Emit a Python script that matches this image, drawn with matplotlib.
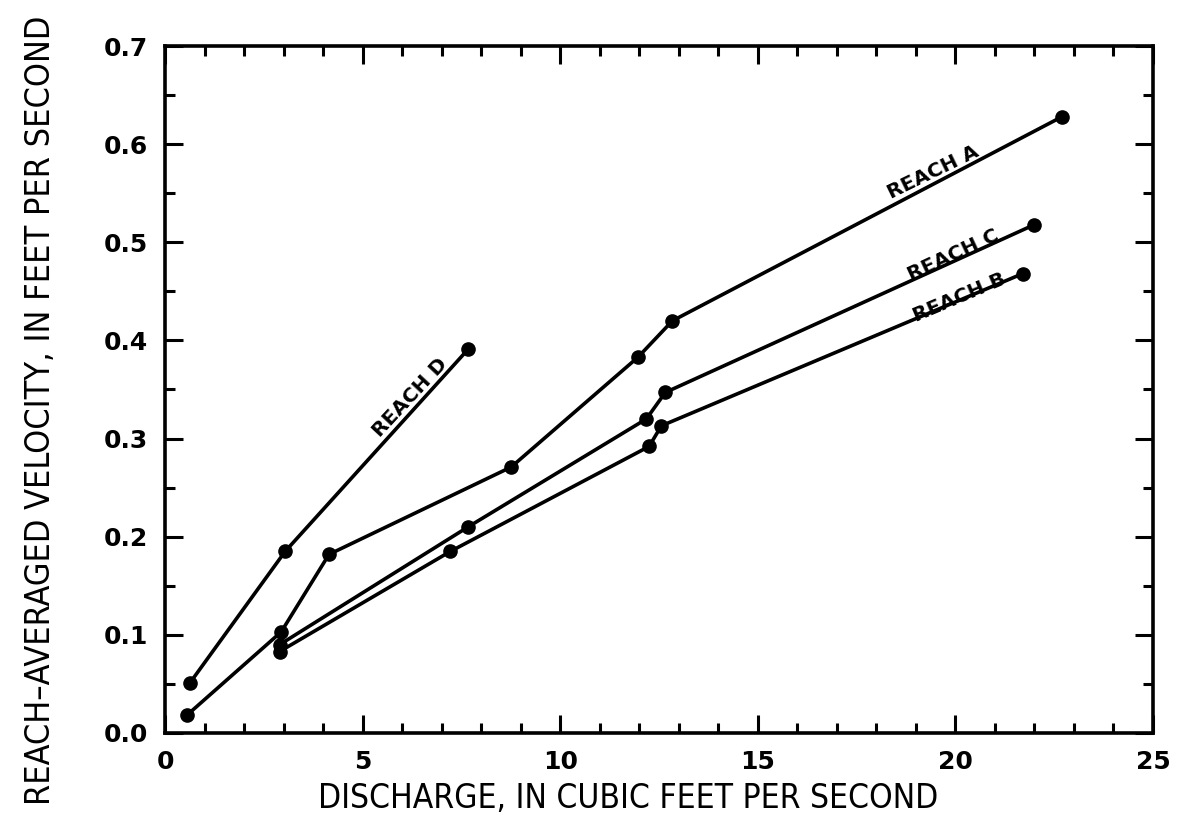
import matplotlib
matplotlib.use("Agg")
import matplotlib.pyplot as plt
from matplotlib.ticker import MultipleLocator

# Data (discharge in cfs, velocity in ft/s)
reach_a_q = [0.55, 2.94, 4.15, 8.76, 11.97, 12.84, 22.7]
reach_a_v = [0.018, 0.103, 0.182, 0.271, 0.383, 0.420, 0.628]
reach_b_q = [2.9, 7.22, 12.25, 12.56, 21.7]
reach_b_v = [0.083, 0.185, 0.292, 0.313, 0.468]
reach_c_q = [2.9, 7.67, 12.18, 12.66, 22.0]
reach_c_v = [0.090, 0.210, 0.320, 0.347, 0.518]
reach_d_q = [0.63, 3.04, 7.67]
reach_d_v = [0.051, 0.185, 0.391]

labels = ["REACH A", "REACH B", "REACH C", "REACH D"]
label_pos = [(19.43, 0.571, 26), (20.09, 0.444, 23), (19.94, 0.487, 25), (6.2, 0.342, 47)]

x_ticks = [0, 5, 10, 15, 20, 25]
y_ticks = [0.0, 0.1, 0.2, 0.3, 0.4, 0.5, 0.6, 0.7]

fig = plt.figure(figsize=(11.82, 8.30), dpi=100)
ax = fig.add_axes([165/1182, 1-733/830, (1153-165)/1182, (733-46)/830])

series = [(reach_a_q, reach_a_v), (reach_b_q, reach_b_v), (reach_c_q, reach_c_v), (reach_d_q, reach_d_v)]
for q, v in series:
    ax.plot(q, v, color="black", lw=2.6, marker="o", ms=9.5, solid_capstyle="round")

for lab, (x, y, r) in zip(labels, label_pos):
    ax.text(x, y, lab, rotation=r, ha="center", va="center", rotation_mode="anchor",
            fontsize=14.5, fontweight="bold", family="DejaVu Sans")

ax.set_xlim(0, 25)
ax.set_ylim(0, 0.7)
ax.set_xticks(x_ticks)
ax.set_yticks(y_ticks)
tickfont = dict(fontsize=18, fontweight="bold", family="DejaVu Sans")
ax.set_xticklabels([str(t) for t in x_ticks], **tickfont)
ax.set_yticklabels([f"{t:.1f}" for t in y_ticks], **tickfont)
ax.xaxis.set_minor_locator(MultipleLocator(1))
ax.yaxis.set_minor_locator(MultipleLocator(0.05))
ax.tick_params(which="both", direction="in", top=True, right=True, width=2.2, color="black")
ax.tick_params(which="major", length=13)
ax.tick_params(which="minor", length=7)
ax.tick_params(axis="x", which="major", pad=12)
ax.tick_params(axis="y", which="major", pad=12)
for s in ax.spines.values():
    s.set_linewidth(2.6)

ax.set_xlabel("DISCHARGE, IN CUBIC FEET PER SECOND", fontsize=24,
              family="DejaVu Sans", fontstretch="condensed", va="center")
ax.set_ylabel("REACH\u2013AVERAGED VELOCITY, IN FEET PER SECOND", fontsize=24.5,
              family="DejaVu Sans", fontstretch="condensed", va="center")
ax.xaxis.set_label_coords(0.469, -0.095)
ax.yaxis.set_label_coords(-0.126, 0.47)

fig.savefig("out.png", dpi=100)
